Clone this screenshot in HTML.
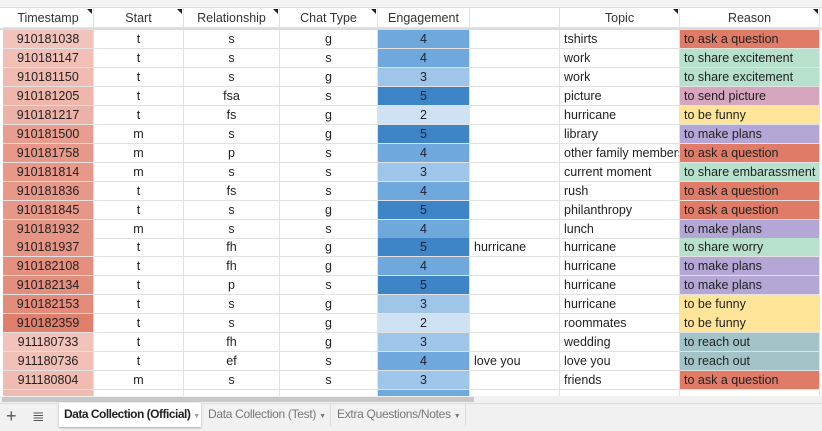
<!DOCTYPE html>
<html><head><meta charset="utf-8"><style>
body{margin:0;width:822px;height:430px;overflow:hidden;background:#fff;font-family:"Liberation Sans",Arial,sans-serif;font-size:12.5px;color:#222;position:relative}
.c{position:absolute;box-sizing:border-box;border-right:1px solid #e2e2e2;border-bottom:1px solid #e2e2e2;line-height:18px;white-space:nowrap;overflow:hidden}
.h{background:#fff;text-align:center;line-height:20px;color:#333;font-size:12.5px}
.tri{position:absolute;right:1px;top:1px;width:0;height:0;border-top:5px solid #222;border-left:5px solid transparent}
.tab{position:absolute;white-space:nowrap;font-size:12px;box-sizing:border-box;overflow:hidden;letter-spacing:-0.3px}
</style></head><body>
<div style="position:absolute;left:0;top:0;width:822px;height:7px;background:#f3f3f3;border-bottom:1px solid #ddd"></div>
<div id="grid"></div>
<div style="position:absolute;left:0;top:396px;width:822px;height:7px;background:#f1f1f1"><div style="position:absolute;left:2px;top:1px;width:472px;height:5px;background:#c8c8c8"></div></div>
<div style="position:absolute;left:0;top:403px;width:822px;height:27px;background:#f1f1f1;border-top:1px solid #ddd">
 <div style="position:absolute;left:6px;top:2px;font-size:18px;color:#555">+</div>
 <div style="position:absolute;left:32px;top:3px;font-size:15px;color:#555">≣</div>
 <div class="tab" style="left:59px;top:-1px;width:142px;height:24px;background:#fff;box-shadow:0 1px 2px #aaa;line-height:22px;color:#222;font-weight:bold;padding-left:5px;letter-spacing:-0.5px">Data Collection (Official) <span style="color:#999;font-size:7px;font-weight:normal">▼</span></div>
 <div class="tab" style="left:204px;top:0;width:127px;height:22px;line-height:20px;color:#777;padding-left:4px;border-right:1px solid #ddd">Data Collection (Test) <span style="font-size:7px">▼</span></div>
 <div class="tab" style="left:333px;top:0;width:133px;height:22px;line-height:20px;color:#777;padding-left:4px;border-right:1px solid #ddd">Extra Questions/Notes <span style="font-size:7px">▼</span></div>
</div>
<script>
const headers=["Timestamp","Start","Relationship","Chat Type","Engagement","","Topic","Reason"];
const timestamps=["910181038","910181147","910181150","910181205","910181217","910181500","910181758","910181814","910181836","910181845","910181932","910181937","910182108","910182134","910182153","910182359","911180733","911180736","911180804"];
const starts=["t","t","t","t","t","m","m","m","t","t","m","t","t","t","t","t","t","t","m"];
const rels=["s","s","s","fsa","fs","s","p","s","fs","s","s","fh","fh","p","s","s","fh","ef","s"];
const chats=["g","s","g","s","g","g","s","s","s","g","s","g","g","s","g","g","g","s","s"];
const engagement=[4,4,3,5,2,5,4,3,4,5,4,5,4,5,3,2,3,4,3];
const notes=["","","","","","","","","","","","hurricane","","","","","","love you",""];
const topics=["tshirts","work","work","picture","hurricane","library","other family members","current moment","rush","philanthropy","lunch","hurricane","hurricane","hurricane","hurricane","roommates","wedding","love you","friends"];
const reasons=["to ask a question","to share excitement","to share excitement","to send picture","to be funny","to make plans","to ask a question","to share embarassment","to ask a question","to ask a question","to make plans","to share worry","to make plans","to make plans","to be funny","to be funny","to reach out","to reach out","to ask a question"];
const tsShade=[0.1,0.15,0.2,0.25,0.3,0.55,0.6,0.6,0.6,0.62,0.65,0.65,0.7,0.72,0.75,0.9,0.1,0.15,0.2];
const xs=[3,94,184,280,378,470,560,680,820];
const engColor={1:"#e8f0fa",2:"#cfe2f3",3:"#9fc5e8",4:"#6fa8dc",5:"#3d85c6"};
const reasonColor={"to ask a question":"#e07b67","to share excitement":"#b7e1cd","to send picture":"#d5a6bd","to be funny":"#ffe599","to make plans":"#b4a7d6","to share embarassment":"#b7e1cd","to share worry":"#b7e1cd","to reach out":"#a2c4c9"};
const g=document.getElementById('grid');
const top0=8,hh=20,rh=18.95;
function cell(x,y,w,h,txt,cls,bg,align){const d=document.createElement('div');d.className='c '+cls;d.style.left=x+'px';d.style.top=y+'px';d.style.width=w+'px';d.style.height=h+'px';if(bg)d.style.background=bg;d.style.textAlign=align;d.style.paddingLeft=align==='left'?'4px':'0';d.textContent=txt;g.appendChild(d);return d;}
function mix(t){const a=[244,204,196],b=[222,118,98];return 'rgb('+a.map((v,i)=>Math.round(v+(b[i]-v)*t)).join(',')+')';}
headers.forEach((h,i)=>{const d=cell(xs[i],top0,xs[i+1]-xs[i],hh,h,'h',null,'center');


if(h&&h!=='Engagement'){const t=document.createElement('div');t.className='tri';d.appendChild(t);}});
const sep=document.createElement('div');sep.style.cssText='position:absolute;left:0;top:28px;width:822px;height:2px;background:#dadce0';g.appendChild(sep);
for(let r=0;r<timestamps.length+1;r++){
 const y=30+r*rh;const last=r===timestamps.length;
 const vals=last?["","","","","","","",""]:[timestamps[r],starts[r],rels[r],chats[r],String(engagement[r]),notes[r],topics[r],reasons[r]];
 const bgs=last?[mix(0.2),null,null,null,engColor[4],null,null,null]:[mix(tsShade[r]),null,null,null,engColor[engagement[r]],null,null,reasonColor[reasons[r]]];
 const al=["center","center","center","center","center","left","left","left"];
 const names=["timestamp","start","relationship","chat-type","engagement","note","topic","reason"];
 for(let i=0;i<8;i++){const d=cell(xs[i],y,xs[i+1]-xs[i],Math.ceil(rh),vals[i],'',bgs[i],al[i]);
  
  
  if(i===4)d.style.color='#223';}
}
</script>
</body></html>
